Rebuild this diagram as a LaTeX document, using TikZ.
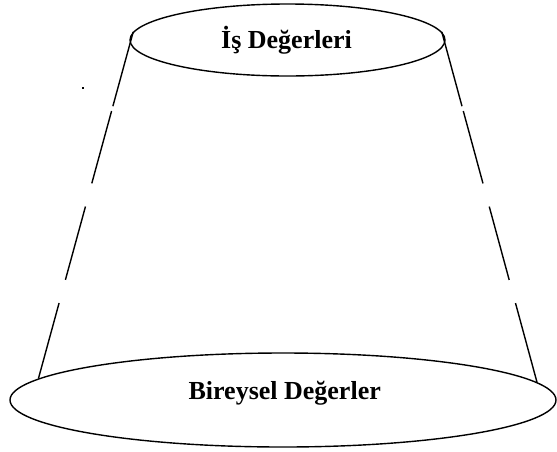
\documentclass[tikz,border=0pt]{standalone}
\usepackage{fontspec}
\setmainfont{Liberation Serif}
\usetikzlibrary{shapes.geometric}
\begin{document}
\begin{tikzpicture}[x=1pt,y=-1pt,
  oval/.style={draw,ellipse,line width=1.4pt,inner sep=0pt},
  lbl/.style={anchor=base,inner sep=0pt,font=\fontsize{26}{30}\selectfont\bfseries},
  side/.style={line width=1.4pt,dash pattern=on 77pt off 5pt on 75pt off 24pt on 76pt off 24pt on 120pt off 10pt}]
\useasboundingbox (0,0) rectangle (557,451);
\node[oval,minimum width=315pt,minimum height=72pt] (top) at (287.5,40) {};
\node[oval,minimum width=546pt,minimum height=94pt] (bot) at (283,400) {};
\node[lbl] (toptext) at (286.5,48.3) {İş Değerleri};
\node[lbl] (bottext) at (284.7,399) {Bireysel Değerler};
\draw[side] (top.177) -- (bot.175.5);
\draw[side] (top.3) -- (bot.4.5);
\node[fill,inner sep=0pt,minimum size=2pt] (dot) at (82.7,87.7) {};
\end{tikzpicture}
\end{document}
